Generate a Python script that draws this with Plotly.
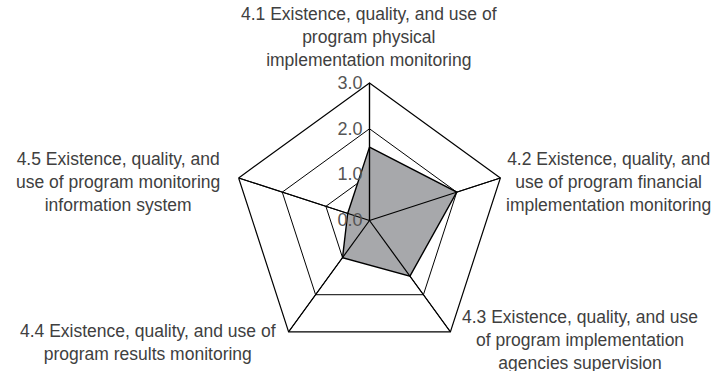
import plotly.graph_objects as go

# axis labels (clockwise from top) and scores
categories = [
    '4.1 Existence, quality, and use of<br>program physical<br>implementation monitoring',
    '4.2 Existence, quality, and<br>use of program financial<br>implementation monitoring',
    '4.3 Existence, quality, and use<br>of program implementation<br>agencies supervision',
    '4.4 Existence, quality, and use of<br>program results monitoring',
    '4.5 Existence, quality, and<br>use of program monitoring<br>information system',
]
scores = [1.6, 2.0, 1.5, 1.0, 0.5]
tick_vals = [0, 1, 2, 3]
tick_text = ['0.0', '1.0', '2.0', '3.0']

W, H = 721, 371
FONT = 'Liberation Sans, Arial, sans-serif'
TEXT_COLOR = '#404040'
keys = [str(i) for i in range(len(categories))]

fig = go.Figure()
fig.add_trace(go.Scatterpolar(
    r=scores + scores[:1],
    theta=keys + keys[:1],
    mode='lines',
    fill='toself',
    fillcolor='#a7a8ab',
    line=dict(color='black', width=1.4),
    hoverinfo='skip',
))

# spokes redrawn on top of the filled area, as in the original
spoke_r, spoke_t = [], []
for k in keys:
    spoke_r += [tick_vals[0], tick_vals[-1], None]
    spoke_t += [k, k, None]
fig.add_trace(go.Scatterpolar(
    r=spoke_r, theta=spoke_t, mode='lines',
    line=dict(color='black', width=1.2),
    connectgaps=False, hoverinfo='skip',
))

# polar area: centre (369.5, 220.5), outer radius ~137.6 px
cx, cy, rad = 369.5, 220.5, 137.6
fig.update_layout(
    width=W, height=H,
    margin=dict(l=0, r=0, t=0, b=0),
    paper_bgcolor='white',
    showlegend=False,
    font=dict(family=FONT, size=17, color=TEXT_COLOR),
    polar=dict(
        domain=dict(x=[(cx - rad) / W, (cx + rad) / W],
                    y=[1 - (cy + rad) / H, 1 - (cy - rad) / H]),
        gridshape='linear',
        bgcolor='white',
        radialaxis=dict(
            range=[0, 3],
            tickvals=tick_vals,
            ticktext=tick_text,
            angle=90,
            tickangle=90,
            side='counterclockwise',
            showline=True,
            linecolor='black',
            linewidth=1.2,
            gridcolor='black',
            gridwidth=1.2,
            ticks='',
            tickfont=dict(size=18, color='#555555'),
        ),
        angularaxis=dict(
            type='category',
            categoryarray=keys,
            direction='clockwise',
            rotation=90,
            showticklabels=False,
            ticks='',
            showline=True,
            linecolor='black',
            linewidth=1.2,
            gridcolor='black',
            gridwidth=1.2,
        ),
    ),
)

# category labels, centre positions in pixels
label_pos = [(369, 37), (608, 182), (580, 340), (148, 342), (118, 182)]
for text, (px, py) in zip(categories, label_pos):
    fig.add_annotation(
        text=text, xref='paper', yref='paper',
        x=px / W, y=1 - py / H,
        xanchor='center', yanchor='middle',
        align='center', showarrow=False,
        font=dict(family=FONT, size=17.5, color=TEXT_COLOR),
    )

# drop the default body margin so the chart sits at the page corner
fig.write_html('out.html', config={'displayModeBar': False},
               post_script="document.body.style.margin='0';")
